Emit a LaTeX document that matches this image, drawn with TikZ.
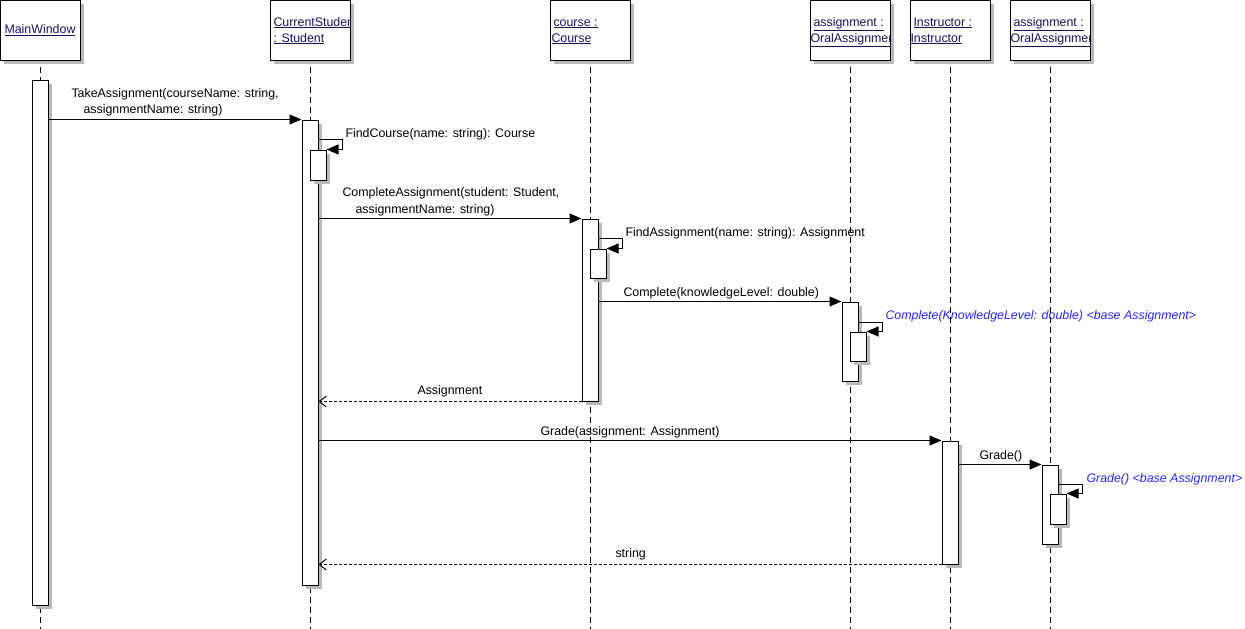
\documentclass[tikz,border=0pt]{standalone}
\usepackage{fontspec}
\setmainfont{Liberation Sans}
\usetikzlibrary{arrows.meta, positioning, shadows, fit}
\definecolor{basecol}{RGB}{40,40,245}
\definecolor{headcol}{RGB}{20,20,100}
\definecolor{shadowgray}{RGB}{185,185,185}
\tikzset{
    head/.style={rectangle, draw, fill=white, minimum width=80pt, minimum height=60pt, inner sep=0pt, drop shadow={shadow xshift=4pt, shadow yshift=-4pt, fill=shadowgray, opacity=1}},
    bar/.style={rectangle, draw, fill=white, inner sep=0pt, drop shadow={shadow xshift=4pt, shadow yshift=-4pt, fill=shadowgray, opacity=1}},
    headtxt/.style={inner sep=0pt, text=headcol, font=\fontsize{12.4}{14}\selectfont},
    life/.style={dash pattern=on 6pt off 4pt},
    msg/.style={-{Triangle[length=12pt,width=10pt]}},
    ret/.style={dash pattern=on 3pt off 2pt, -{Straight Barb[length=7pt,width=11pt]}},
    lbl/.style={inner sep=0pt, anchor=base west, font=\fontsize{12.4}{14}\selectfont},
    basecall/.style={lbl, text=basecol, font=\fontsize{12.4}{14}\selectfont\itshape}
}
\begin{document}
\begin{tikzpicture}[x=1pt, y=-1pt, line width=1pt]
    \useasboundingbox (0,0) rectangle (1245,629);
    \node[head] (hMain) at (40,30) {};
    \node[head] (hStudent) at (310,30) {};
    \node[head] (hCourse) at (590,30) {};
    \node[head] (hAssignA) at (850,30) {};
    \node[head] (hInstr) at (950,30) {};
    \node[head] (hAssignB) at (1050,30) {};
    \node[headtxt] (tMain) at (40,30) {\underline{MainWindow}};
    \begin{scope}
        \clip (hStudent.south west) rectangle (hStudent.north east);
        \node[headtxt, anchor=base west] (tStudentA) at (273,26) {\underline{CurrentStudent}};
        \node[headtxt, anchor=base west] (tStudentB) at (273,42) {\underline{: Student}};
    \end{scope}
    \begin{scope}
        \clip (hCourse.south west) rectangle (hCourse.north east);
        \node[headtxt, anchor=base west] (tCourseA) at (553,26) {\underline{course :}};
        \node[headtxt, anchor=base west] (tCourseB) at (551,42) {\underline{Course}};
    \end{scope}
    \begin{scope}
        \clip (hAssignA.south west) rectangle (hAssignA.north east);
        \node[headtxt, anchor=base west] (tAssignAa) at (813,26) {\underline{assignment :}};
        \node[headtxt, anchor=base west] (tAssignAb) at (810,42) {\underline{OralAssignment}};
    \end{scope}
    \begin{scope}
        \clip (hInstr.south west) rectangle (hInstr.north east);
        \node[headtxt, anchor=base west] (tInstrA) at (913,26) {\underline{Instructor :}};
        \node[headtxt, anchor=base west] (tInstrB) at (910,42) {\underline{Instructor}};
    \end{scope}
    \begin{scope}
        \clip (hAssignB.south west) rectangle (hAssignB.north east);
        \node[headtxt, anchor=base west] (tAssignBa) at (1013,26) {\underline{assignment :}};
        \node[headtxt, anchor=base west] (tAssignBb) at (1010,42) {\underline{OralAssignment}};
    \end{scope}

    \foreach \h in {hMain, hStudent, hCourse, hAssignA, hInstr, hAssignB}
        \draw[life] ([yshift=-6pt]\h.south) -- (\h.south |- 0,629);

    \node[bar, fit={(32,80) (48,605)}] (barMain) {};
    \node[bar, fit={(302,120) (318,585)}] (barStudent) {};
    \node[bar, fit={(310,150) (326,180)}] (selfStudent) {};
    \node[bar, fit={(582,219) (598,401)}] (barCourse) {};
    \node[bar, fit={(590,249) (606,278)}] (selfCourse) {};
    \node[bar, fit={(842,302) (858,381)}] (barAssignA) {};
    \node[bar, fit={(850,332) (866,361)}] (selfAssignA) {};
    \node[bar, fit={(942,441) (958,564)}] (barInstr) {};
    \node[bar, fit={(1042,465) (1058,544)}] (barAssignB) {};
    \node[bar, fit={(1050,494) (1066,524)}] (selfAssignB) {};

    \draw[msg] (barMain.east |- barStudent.north) -- (barStudent.north west);
    \draw[msg] (barStudent.east |- 0,139) -- ++(24,0) |- (selfStudent.north east);
    \draw[msg] (barStudent.east |- barCourse.north) -- (barCourse.north west);
    \draw[msg] (barCourse.east |- 0,238) -- ++(24,0) |- (selfCourse.north east);
    \draw[msg] (barCourse.east |- barAssignA.north) -- (barAssignA.north west);
    \draw[msg] (barAssignA.east |- 0,322) -- ++(24,0) |- (selfAssignA.north east);
    \draw[ret] (barCourse.south west) -- (barStudent.east |- barCourse.south);
    \draw[msg] (barStudent.east |- barInstr.north) -- (barInstr.north west);
    \draw[msg] (barInstr.east |- barAssignB.north) -- (barAssignB.north west);
    \draw[msg] (barAssignB.east |- 0,484) -- ++(24,0) |- (selfAssignB.north east);
    \draw[ret] (barInstr.south west) -- (barStudent.east |- barInstr.south);

    \node[lbl] (lTakeA) at (71,97) {TakeAssignment(courseName: string,};
    \node[lbl] (lTakeB) at (83,113) {assignmentName: string)};
    \node[lbl] (lFindCourse) at (345,137) {FindCourse(name: string): Course};
    \node[lbl] (lCompleteA) at (342,196) {CompleteAssignment(student: Student,};
    \node[lbl] (lCompleteB) at (355,213) {assignmentName: string)};
    \node[lbl] (lFindAssign) at (625,236) {FindAssignment(name: string): Assignment};
    \node[lbl] (lComplete) at (623,296) {Complete(knowledgeLevel: double)};
    \node[basecall] (lBaseComplete) at (885,319) {Complete(KnowledgeLevel: double) <base Assignment>};
    \node[lbl] (lRetAssign) at (417,394) {Assignment};
    \node[lbl] (lGrade) at (540,435) {Grade(assignment: Assignment)};
    \node[lbl] (lGradeCall) at (979,459) {Grade()};
    \node[basecall] (lBaseGrade) at (1086,482) {Grade() <base Assignment>};
    \node[lbl] (lRetString) at (615,557) {string};
\end{tikzpicture}
\end{document}
